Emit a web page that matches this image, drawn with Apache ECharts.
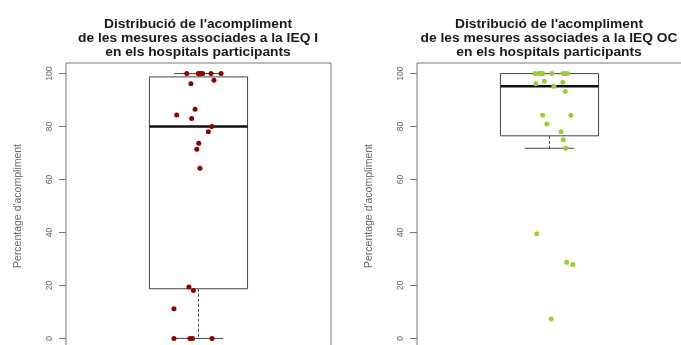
<!DOCTYPE html>
<html>
<head>
<meta charset="utf-8">
<script src="https://cdn.jsdelivr.net/npm/echarts@6/dist/echarts.min.js"></script>
<style>
  html, body { margin: 0; padding: 0; background: #ffffff; }
  #chart { width: 681px; height: 345px; }
</style>
</head>
<body>
<div id="chart"></div>
<script>
// Compliance (%) per participating hospital, with the horizontal jitter used to spread the dots.
const ieqIValues = [100, 100, 100, 100, 100, 100, 96.2, 97.5, 86.5, 84.4, 83, 80, 78, 73.7, 71.4, 64.3, 19.4, 18.1, 11.2, 0, 0, 0, 0];
const ieqIJitter = [0.952, 0.999, 1.009, 1.017, 1.051, 1.092, 0.969, 1.063, 0.986, 0.911, 0.972, 1.054, 1.040, 1.001, 0.993, 1.006, 0.961, 0.979, 0.900, 0.900, 0.965, 0.976, 1.055];

const ieqOCValues = [100, 100, 100, 100, 100, 100, 100, 100, 96.2, 97.1, 96.7, 95.2, 93.2, 84.3, 84.3, 81, 78, 75, 71.8, 39.5, 28.8, 27.9, 7.3];
const ieqOCJitter = [0.941, 0.957, 0.965, 0.973, 1.010, 1.055, 1.063, 1.073, 0.944, 0.979, 1.054, 1.018, 1.064, 0.972, 1.087, 0.989, 1.047, 1.056, 1.066, 0.948, 1.070, 1.095, 1.007];

const yTicks = [0, 20, 40, 60, 80, 100];
const yAxisTitle = "Percentage d'acompliment";
const titleIEQI = "Distribució de l'acompliment\nde les mesures associades a la IEQ I\nen els hospitals participants";
const titleIEQOC = "Distribució de l'acompliment\nde les mesures associades a la IEQ OC\nen els hospitals participants";

// Tukey five-number summary and 1.5*IQR whiskers (as R's boxplot.stats).
function boxStats(values) {
  const x = values.slice().sort((a, b) => a - b);
  const n = x.length;
  const n4 = Math.floor((n + 3) / 2) / 2;
  const d = [1, n4, (n + 1) / 2, n + 1 - n4, n];
  const q = d.map(p => 0.5 * (x[Math.floor(p) - 1] + x[Math.ceil(p) - 1]));
  const iqr = q[3] - q[1];
  const lo = x.filter(v => v >= q[1] - 1.5 * iqr)[0];
  const hiArr = x.filter(v => v <= q[3] + 1.5 * iqr);
  const hi = hiArr[hiArr.length - 1];
  return [1, lo, q[1], q[2], q[3], hi];
}

const FONT = 'Liberation Sans, Arial, sans-serif';

function renderBox(params, api) {
  const c = api.value(0);
  const lo = api.value(1), q1 = api.value(2), med = api.value(3), q3 = api.value(4), hi = api.value(5);
  const half = 0.2, cap = 0.1;
  const pTL = api.coord([c - half, q3]);
  const pBR = api.coord([c + half, q1]);
  const pMedL = api.coord([c - half, med]);
  const pMedR = api.coord([c + half, med]);
  const pHi = api.coord([c, hi]);
  const pLo = api.coord([c, lo]);
  const pQ3 = api.coord([c, q3]);
  const pQ1 = api.coord([c, q1]);
  const capHiL = api.coord([c - cap, hi]), capHiR = api.coord([c + cap, hi]);
  const capLoL = api.coord([c - cap, lo]), capLoR = api.coord([c + cap, lo]);
  const edge = '#444';
  return {
    type: 'group',
    children: [
      { type: 'line', shape: { x1: pQ3[0], y1: pQ3[1], x2: pHi[0], y2: pHi[1] },
        style: { stroke: edge, lineWidth: 1, lineDash: [3, 2] } },
      { type: 'line', shape: { x1: pQ1[0], y1: pQ1[1], x2: pLo[0], y2: pLo[1] },
        style: { stroke: edge, lineWidth: 1, lineDash: [3, 2] } },
      { type: 'line', shape: { x1: capHiL[0], y1: capHiL[1], x2: capHiR[0], y2: capHiR[1] },
        style: { stroke: edge, lineWidth: 1 } },
      { type: 'line', shape: { x1: capLoL[0], y1: capLoL[1], x2: capLoR[0], y2: capLoR[1] },
        style: { stroke: edge, lineWidth: 1 } },
      { type: 'rect', shape: { x: pTL[0], y: pTL[1], width: pBR[0] - pTL[0], height: pBR[1] - pTL[1] },
        style: { fill: '#ffffff', stroke: edge, lineWidth: 1 } },
      { type: 'line', shape: { x1: pMedL[0], y1: pMedL[1], x2: pMedR[0], y2: pMedR[1] },
        style: { stroke: '#111', lineWidth: 2.5 } }
    ]
  };
}

function makeYAxis(gridIndex) {
  return {
    type: 'value', gridIndex: gridIndex, min: -4, max: 104,
    name: yAxisTitle, nameLocation: 'middle', nameRotate: 90, nameGap: 42,
    nameTextStyle: { fontFamily: FONT, fontSize: 10.5, color: '#666' },
    axisLine: { show: false },
    axisTick: { show: true, inside: false, length: 7, customValues: yTicks, lineStyle: { color: '#777' } },
    axisLabel: { show: true, rotate: 90, margin: 12, customValues: yTicks, fontFamily: FONT, fontSize: 8.5, color: '#666' },
    splitLine: { show: false }
  };
}

function makeXAxis(gridIndex) {
  return { type: 'value', gridIndex: gridIndex, min: 0.46, max: 1.54, show: false, splitLine: { show: false } };
}

// Panel title: bold, three lines, slightly widened glyphs.
function panelTitle(text, cx) {
  return {
    type: 'text', x: cx, y: 17.5, scaleX: 1.15, scaleY: 1, silent: true,
    style: { text: text, align: 'center', verticalAlign: 'top', fontFamily: FONT, fontSize: 12,
             fontWeight: 'bold', lineHeight: 14, fill: '#1a1a1a' }
  };
}

const gridStyle = {
  show: true, borderColor: '#777', borderWidth: 1, backgroundColor: 'transparent',
  top: 63, height: 286, width: 265, outerBoundsMode: 'none', containLabel: false
};

const chart = echarts.init(document.getElementById('chart'), null, { renderer: 'canvas', width: 681, height: 345 });
chart.setOption({
  animation: false,
  backgroundColor: '#ffffff',
  graphic: [panelTitle(titleIEQI, 198), panelTitle(titleIEQOC, 549)],
  grid: [
    Object.assign({ left: 66 }, gridStyle),
    Object.assign({ left: 417 }, gridStyle)
  ],
  xAxis: [makeXAxis(0), makeXAxis(1)],
  yAxis: [makeYAxis(0), makeYAxis(1)],
  series: [
    { type: 'custom', xAxisIndex: 0, yAxisIndex: 0, renderItem: renderBox, data: [boxStats(ieqIValues)], z: 1, silent: true },
    { type: 'scatter', xAxisIndex: 0, yAxisIndex: 0, symbolSize: 5, z: 2,
      itemStyle: { color: '#8B0000', opacity: 1 },
      data: ieqIValues.map((v, i) => [ieqIJitter[i], v]) },
    { type: 'custom', xAxisIndex: 1, yAxisIndex: 1, renderItem: renderBox, data: [boxStats(ieqOCValues)], z: 1, silent: true },
    { type: 'scatter', xAxisIndex: 1, yAxisIndex: 1, symbolSize: 5, z: 2,
      itemStyle: { color: '#9ACD32', opacity: 1 },
      data: ieqOCValues.map((v, i) => [ieqOCJitter[i], v]) }
  ]
});
</script>
</body>
</html>
